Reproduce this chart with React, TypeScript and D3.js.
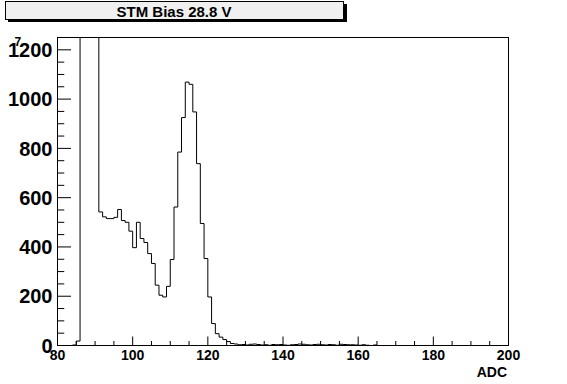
import React from "react";
import * as d3 from "d3";

// ---- data ----
const titleText = "STM Bias 28.8 V";
const xAxisTitle = "ADC";
const firstBinLow = 84; // ADC value of the first bin's lower edge
const binWidth = 1;
const counts = [
  2, 18, 2600, 4100, 3900, 2800, 1700, // 84-90
  542, 522, 515, 515, 520, 552, 507, 500, 464, 397, // 91-100
  500, 434, 418, 373, 333, 245, 204, 197, 240, 349, // 101-110
  562, 785, 925, 1069, 1060, 948, 738, 495, 353, 197, // 111-120
  89, 48, 34, 24, 16, 8, 6, 3, 4, 2, // 121-130
  5, 6, 4, 2, 3, 1, 4, 3, 4, 2, // 131-140
  1, 3, 4, 6, 5, 3, 2, 4, 5, 3, // 141-150
  2, 4, 3, 1, 5, 4, 3, 3, 2, 1, // 151-160
  3, 1, 0, 2, // 161-164
];
const xDomain = [80, 200];
const yDomain = [0, 1250];
const xMajorTicks = [80, 100, 120, 140, 160, 180, 200];
const yMajorTicks = [0, 200, 400, 600, 800, 1000, 1200];

const W = 567;
const H = 384;
const FL = 57.5, FR = 508.5, FT = 37.5, FB = 345.5;

export default function App() {
  const x = d3.scaleLinear().domain(xDomain).range([FL, FR]);
  const y = d3.scaleLinear().domain(yDomain).range([FB, FT]);

  const pts: [number, number][] = [];
  pts.push([x(firstBinLow), y(0)]);
  counts.forEach((c, i) => {
    const lo = firstBinLow + i * binWidth;
    pts.push([x(lo), y(c)]);
    pts.push([x(lo + binWidth), y(c)]);
  });
  pts.push([x(firstBinLow + counts.length * binWidth), y(0)]);
  const path = d3.line()(pts) || "";

  const xMinor = d3.range(xDomain[0], xDomain[1] + 0.001, 5);
  const yMinor = d3.range(yDomain[0], 1200 + 0.001, 50);
  const font = "'Liberation Sans', Arial, Helvetica, sans-serif";

  return (
    <svg
      width={W}
      height={H}
      style={{ position: "absolute", left: 0, top: 0, background: "#fff" }}
    >
      <defs>
        <clipPath id="frameClip">
          <rect x={FL} y={FT} width={FR - FL} height={FB - FT} />
        </clipPath>
      </defs>
      <rect x={0} y={0} width={W} height={H} fill="#fff" />

      {/* title box */}
      <rect x={8} y={4} width={339} height={18} fill="#000" />
      <rect x={5.5} y={1.5} width={338} height={18} fill="#f0f0f0" stroke="#000" strokeWidth={1} />
      <text x={174} y={16.5} textAnchor="middle" fontFamily={font} fontWeight="bold" fontSize={15}>
        {titleText}
      </text>

      {/* histogram */}
      <path d={path} fill="none" stroke="#000" strokeWidth={1} clipPath="url(#frameClip)" />

      {/* frame */}
      <rect x={FL} y={FT} width={FR - FL} height={FB - FT} fill="none" stroke="#000" strokeWidth={1} />

      {/* x ticks */}
      {xMinor.map((v) => {
        const major = xMajorTicks.includes(v);
        return (
          <line key={"xt" + v} x1={x(v)} x2={x(v)} y1={FB} y2={FB - (major ? 9 : 4.5)} stroke="#000" strokeWidth={1} />
        );
      })}
      {xMajorTicks.map((v) => (
        <text key={"xl" + v} x={x(v)} y={359.5} textAnchor="middle" fontFamily={font} fontWeight="bold" fontSize={14}>
          {v}
        </text>
      ))}
      <text x={507} y={377} textAnchor="end" fontFamily={font} fontWeight="bold" fontSize={14}>
        {xAxisTitle}
      </text>

      {/* y ticks */}
      {yMinor.map((v) => {
        const major = yMajorTicks.includes(v);
        return (
          <line key={"yt" + v} x1={FL} x2={FL + (major ? 13.5 : 6.75)} y1={y(v)} y2={y(v)} stroke="#000" strokeWidth={1} />
        );
      })}
      {yMajorTicks.map((v) => (
        <text key={"yl" + v} x={52.5} y={y(v) + 7.2} textAnchor="end" fontFamily={font} fontWeight="bold" fontSize={20}>
          {v}
        </text>
      ))}
      <text x={14.5} y={46} fontFamily={font} fontWeight="bold" fontSize={12}>
        7
      </text>
    </svg>
  );
}
